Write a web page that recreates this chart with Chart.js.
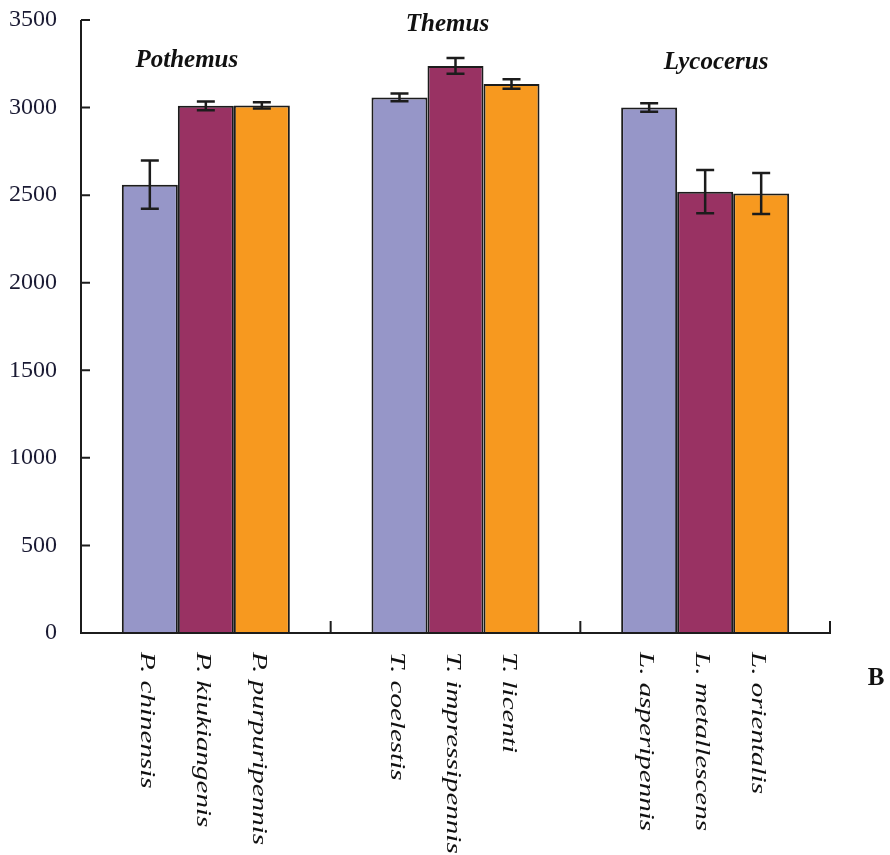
<!DOCTYPE html>
<html>
<head>
<meta charset="utf-8">
<script src="https://cdn.jsdelivr.net/npm/chart.js@4"></script>
<style>
  html, body { margin: 0; padding: 0; background: #fff; }
  #wrap { width: 890px; height: 855px; }
</style>
</head>
<body>
<div id="wrap"><canvas id="barChart" width="890" height="855"></canvas></div>
<script>
// genera on the x axis, one bar per species (first / second / third in each genus)
const genera = ['Pothemus', 'Themus', 'Lycocerus'];

const speciesA = ['P. chinensis', 'T. coelestis', 'L. asperipennis'];
const speciesB = ['P. kiukiangenis', 'T. impressipennis', 'L. metallescens'];
const speciesC = ['P. purpuripennis', 'T. licenti', 'L. orientalis'];

const valuesA = [2560, 3058, 3000];
const valuesB = [3010, 3238, 2520];
const valuesC = [3012, 3135, 2510];

const errorsA = [138, 22, 24];
const errorsB = [25, 45, 123];
const errorsC = [18, 27, 117];

const yTicks = [0, 500, 1000, 1500, 2000, 2500, 3000, 3500];

const ink = '#1c1c1c';
const serif = '"Liberation Serif", "Times New Roman", serif';

// error bars, axes with inner tick marks, species names, genus names and the panel letter
const decorations = {
	id: 'decorations',
	afterDatasetsDraw(chart) {
		const ctx = chart.ctx;
		const x = chart.scales.x;
		const y = chart.scales.y;
		const area = chart.chartArea;
		const errs = [errorsA, errorsB, errorsC];
		const names = [speciesA, speciesB, speciesC];

		ctx.save();
		ctx.strokeStyle = ink;

		// error bars
		ctx.lineWidth = 2.5;
		chart.data.datasets.forEach((ds, i) => {
			const meta = chart.getDatasetMeta(i);
			meta.data.forEach((bar, j) => {
				let top = y.getPixelForValue(ds.data[j] + errs[i][j]);
				let bot = y.getPixelForValue(ds.data[j] - errs[i][j]);
				ctx.beginPath();
				ctx.moveTo(bar.x, top); ctx.lineTo(bar.x, bot);
				ctx.moveTo(bar.x - 9, top); ctx.lineTo(bar.x + 9, top);
				ctx.moveTo(bar.x - 9, bot); ctx.lineTo(bar.x + 9, bot);
				ctx.stroke();
			});
		});

		// axes
		ctx.lineWidth = 2;
		ctx.beginPath();
		ctx.moveTo(area.left, y.getPixelForValue(3500));
		ctx.lineTo(area.left, area.bottom);
		ctx.lineTo(area.right, area.bottom);
		ctx.lineTo(area.right, area.bottom - 12);
		for (let v of yTicks) {
			let py = y.getPixelForValue(v);
			ctx.moveTo(area.left, py); ctx.lineTo(area.left + 9, py);
		}
		let w = (area.right - area.left) / genera.length;
		for (let k = 1; k < genera.length; k++) {
			ctx.moveTo(area.left + w * k, area.bottom);
			ctx.lineTo(area.left + w * k, area.bottom - 12);
		}
		ctx.stroke();

		// species names, rotated, reading downward
		ctx.fillStyle = '#111';
		ctx.font = 'italic 22px ' + serif;
		ctx.textAlign = 'left';
		ctx.textBaseline = 'middle';
		names.forEach((list, i) => {
			const meta = chart.getDatasetMeta(i);
			meta.data.forEach((bar, j) => {
				ctx.save();
				ctx.translate(bar.x - 3, area.bottom + 19);
				ctx.rotate(Math.PI / 2);
				ctx.scale(1.32, 1);
				ctx.fillText(list[j], 0, 0);
				ctx.restore();
			});
		});

		// genus names
		const titleDx = [-19, -8, 11];
		const titleY = [61, 25, 63];
		ctx.font = 'bold italic 25px ' + serif;
		ctx.textAlign = 'center';
		genera.forEach((g, j) => {
			ctx.fillText(g, x.getPixelForValue(j) + titleDx[j], titleY[j]);
		});

		// panel letter
		ctx.font = 'bold 25px ' + serif;
		ctx.fillText('B', 876, 679);
		ctx.restore();
	}
};

new Chart(document.getElementById('barChart'), {
	type: 'bar',
	data: {
		labels: genera,
		datasets: [
			{ label: 'first', data: valuesA, backgroundColor: '#9696c8' },
			{ label: 'second', data: valuesB, backgroundColor: '#993263' },
			{ label: 'third', data: valuesC, backgroundColor: '#f7991f' }
		]
	},
	options: {
		responsive: false,
		animation: false,
		devicePixelRatio: 1,
		layout: { padding: { top: 20, right: 60, bottom: 222, left: 0 } },
		datasets: {
			bar: {
				borderColor: ink,
				borderWidth: 2,
				categoryPercentage: 0.673,
				barPercentage: 1
			}
		},
		plugins: { legend: { display: false }, tooltip: { enabled: false } },
		scales: {
			x: {
				ticks: { display: false },
				grid: { display: false },
				border: { display: false },
				afterFit: s => { s.height = 0; }
			},
			y: {
				min: 0,
				max: 3500,
				ticks: {
					stepSize: 500,
					padding: 24,
					color: '#1a1a33',
					font: { family: serif, size: 24 },
					callback: v => String(v)
				},
				grid: { display: false, drawTicks: false },
				border: { display: false },
				afterFit: s => {
					s.width = 81;
					s.paddingTop = 0;
					s.paddingBottom = 0;
				}
			}
		}
	},
	plugins: [decorations]
});
</script>
</body>
</html>
